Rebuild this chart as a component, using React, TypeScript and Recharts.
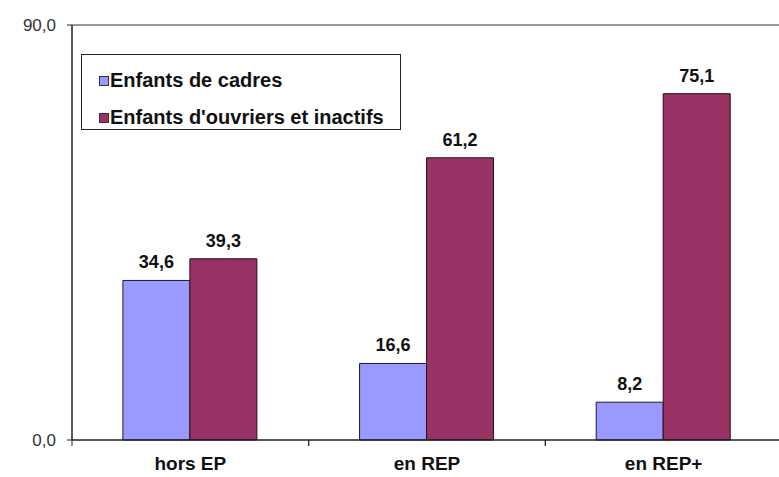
import { BarChart, Bar, XAxis, YAxis, Legend, LabelList, ReferenceLine } from 'recharts';

const categories = ['hors EP', 'en REP', 'en REP+'];
const cadres = [34.6, 16.6, 8.2];
const ouvriers = [39.3, 61.2, 75.1];
const yTicks = [0, 90];
const seriesNames = ['Enfants de cadres', "Enfants d'ouvriers et inactifs"];

const data = categories.map((name, i) => ({
  name,
  cadres: cadres[i],
  ouvriers: ouvriers[i],
}));

const FONT = '"Liberation Sans", Arial, sans-serif';
const BLUE = '#9999ff';
const PURPLE = '#993366';
const seriesColors = [BLUE, PURPLE];

const fmt = (v: number) => v.toFixed(1).replace('.', ',');

const CategoryTick = (props: any) => {
  const { x, y, payload } = props;
  const half = payload && payload.offset ? payload.offset : 118;
  return (
    <g>
      <line x1={x - half} y1={y} x2={x - half} y2={y + 6} stroke="#222" />
      <line x1={x + half} y1={y} x2={x + half} y2={y + 6} stroke="#222" />
      <text
        x={x}
        y={y + 30}
        textAnchor="middle"
        fontFamily={FONT}
        fontWeight="bold"
        fontSize={19}
        fill="#111"
      >
        {payload.value}
      </text>
    </g>
  );
};

// legend keeps the series order (recharts would sort it by name)
const renderLegend = () => (
  <div
    style={{
      border: '1.5px solid #222',
      width: 320,
      height: 76,
      boxSizing: 'border-box',
      padding: '7px 0 0 17px',
      fontFamily: FONT,
      fontWeight: 'bold',
      fontSize: 20,
      color: '#111',
      background: '#fff',
    }}
  >
    {seriesNames.map((name, i) => (
      <div key={name} style={{ display: 'flex', alignItems: 'center', height: 37 }}>
        <span
          style={{
            display: 'inline-block',
            width: 8,
            height: 8,
            background: seriesColors[i],
            border: '1px solid #333',
            marginRight: 1,
          }}
        />
        {name}
      </div>
    ))}
  </div>
);

export default function App() {
  return (
    <div style={{ position: 'absolute', left: 0, top: 0, background: '#fff' }}>
      <BarChart
        width={779}
        height={477}
        data={data}
        margin={{ top: 25, right: -3, left: 0, bottom: 0 }}
        barCategoryGap="21.5%"
        barGap={0}
      >
        <ReferenceLine y={90} stroke="#999" strokeWidth={2} />
        <XAxis
          dataKey="name"
          height={37}
          axisLine={{ stroke: '#222', strokeWidth: 1.5 }}
          tickLine={false}
          tickSize={0}
          tickMargin={0}
          tick={<CategoryTick />}
          interval={0}
        />
        <YAxis
          width={72}
          domain={[0, 90]}
          ticks={yTicks}
          tickFormatter={fmt}
          axisLine={{ stroke: '#222', strokeWidth: 1.5 }}
          tickLine={{ stroke: '#222' }}
          tickSize={5}
          tickMargin={11}
          tick={{ fontFamily: FONT, fontSize: 17, fill: '#333' }}
        />
        <Legend
          layout="vertical"
          align="center"
          verticalAlign="middle"
          wrapperStyle={{ left: 81, top: 54, width: 320 }}
          content={renderLegend}
        />
        <Bar
          dataKey="cadres"
          name={seriesNames[0]}
          fill={BLUE}
          stroke="#1a1a3a"
          strokeWidth={1}
          isAnimationActive={false}
        >
          <LabelList
            dataKey="cadres"
            position="top"
            offset={12}
            formatter={(v: any) => fmt(Number(v))}
            style={{ fontFamily: FONT, fontWeight: 'bold', fontSize: 18, fill: '#111' }}
          />
        </Bar>
        <Bar
          dataKey="ouvriers"
          name={seriesNames[1]}
          fill={PURPLE}
          stroke="#2a0a1a"
          strokeWidth={1}
          isAnimationActive={false}
        >
          <LabelList
            dataKey="ouvriers"
            position="top"
            offset={12}
            formatter={(v: any) => fmt(Number(v))}
            style={{ fontFamily: FONT, fontWeight: 'bold', fontSize: 18, fill: '#111' }}
          />
        </Bar>
      </BarChart>
    </div>
  );
}
